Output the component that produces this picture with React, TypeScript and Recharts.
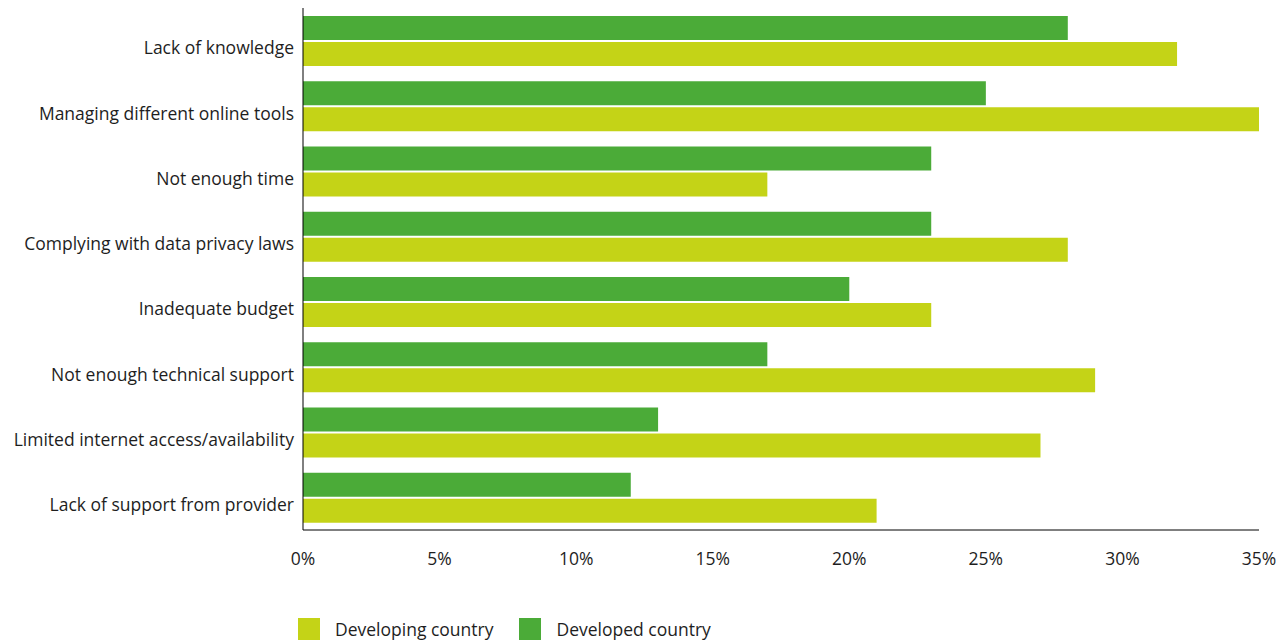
import React from 'react';
import { BarChart, Bar, XAxis, YAxis, Legend } from 'recharts';

const categories = [
  'Lack of knowledge',
  'Managing different online tools',
  'Not enough time',
  'Complying with data privacy laws',
  'Inadequate budget',
  'Not enough technical support',
  'Limited internet access/availability',
  'Lack of support from provider',
];
const developed = [28, 25, 23, 23, 20, 17, 13, 12];
const developing = [32, 35, 17, 28, 23, 29, 27, 21];
const xTicks = [0, 5, 10, 15, 20, 25, 30, 35];

const DEVELOPED = '#4bab38';
const DEVELOPING = '#c4d317';
const FONT = '"Open Sans", "Noto Sans", sans-serif';
const FONT_SIZE = 17.5;

const data = categories.map((name, i) => ({
  name,
  developed: developed[i],
  developing: developing[i],
}));

const legendItems = [
  { label: 'Developing country', color: DEVELOPING },
  { label: 'Developed country', color: DEVELOPED },
];

function ChartLegend() {
  return (
    <div style={{ display: 'flex', alignItems: 'center', height: 26, fontFamily: FONT, fontSize: FONT_SIZE, color: '#1e1e1e' }}>
      {legendItems.map((it) => (
        <div key={it.label} style={{ display: 'flex', alignItems: 'center', marginRight: 26 }}>
          <span style={{ width: 22, height: 22, background: it.color, display: 'inline-block', marginRight: 15 }} />
          <span>{it.label}</span>
        </div>
      ))}
    </div>
  );
}

export default function App() {
  return (
    <div style={{ position: 'absolute', left: 0, top: 0, background: '#fff' }}>
      <BarChart
        width={1284}
        height={641}
        data={data}
        layout="vertical"
        margin={{ top: 8, right: 25, left: 0, bottom: 45 }}
        barCategoryGap={8}
        barGap={2}
      >
        <XAxis
          type="number"
          domain={[0, 35]}
          ticks={xTicks}
          tickFormatter={(v) => `${v}%`}
          axisLine={{ stroke: '#000' }}
          tickLine={false}
          tickSize={0}
          tickMargin={22.5}
          height={40}
          interval={0}
          tick={{ fill: '#1e1e1e', fontSize: FONT_SIZE, fontFamily: FONT }}
        />
        <YAxis
          type="category"
          dataKey="name"
          width={303}
          axisLine={{ stroke: '#000' }}
          tickLine={false}
          tickSize={0}
          tickMargin={9}
          interval={0}
          tick={{ fill: '#1e1e1e', fontSize: FONT_SIZE, fontFamily: FONT, dy: 7.5 }}
        />
        <Legend
          verticalAlign="bottom"
          align="left"
          content={<ChartLegend />}
          wrapperStyle={{ left: 298, top: 616, bottom: 'auto', width: 'auto' }}
        />
        <Bar dataKey="developed" name="Developed country" fill={DEVELOPED} isAnimationActive={false} />
        <Bar dataKey="developing" name="Developing country" fill={DEVELOPING} isAnimationActive={false} />
      </BarChart>
    </div>
  );
}
